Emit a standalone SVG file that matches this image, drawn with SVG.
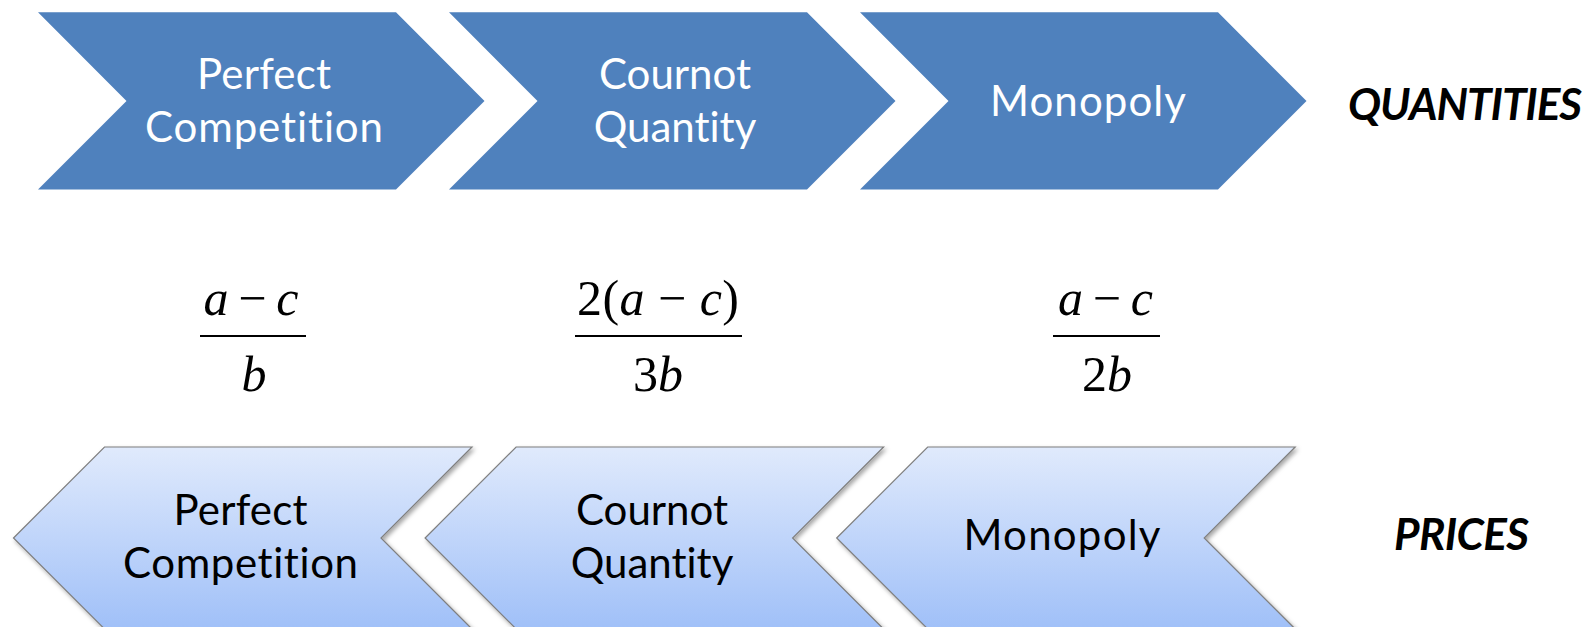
<svg xmlns="http://www.w3.org/2000/svg" xmlns:xlink="http://www.w3.org/1999/xlink" width="1593" height="627" viewBox="0 0 1593 627">
  <style>
    .top { fill: #4f81bd; }
    .bot { fill: url(#gbot); stroke: #7f7f7f; stroke-width: 1.2; filter: url(#sh); }
    .lbl { font-family: Lato, "Open Sans", "DejaVu Sans", sans-serif; font-size: 42px; text-anchor: middle; font-variant-ligatures: none; font-feature-settings: "liga" 0, "clig" 0; }
    .w { fill: #ffffff; }
    .k { fill: #000000; }
    .side { font-family: Lato, "Open Sans", "DejaVu Sans", sans-serif; font-size: 44px; font-weight: bold; font-style: italic; fill: #000; font-variant-ligatures: none; }
    .math { font-family: "Liberation Serif", "Times New Roman", serif; font-size: 50px; font-style: italic; fill: #000; text-anchor: middle; }
    .up { font-style: normal; }
    .bar { stroke: #000; stroke-width: 2.2; }
  </style>
  <defs>
    <linearGradient id="gbot" x1="0" y1="447" x2="0" y2="629" gradientUnits="userSpaceOnUse">
      <stop offset="0" stop-color="#e0eafc"/>
      <stop offset="1" stop-color="#a0c0f8"/>
    </linearGradient>
    <filter id="sh" x="-10%" y="-10%" width="125%" height="130%">
      <feDropShadow dx="2" dy="2.5" stdDeviation="2" flood-color="#000" flood-opacity="0.35"/>
    </filter>
    <polygon id="chevR" points="38,12.3 396,12.3 484.5,101 396,189.5 38,189.5 126.5,101"/>
    <polygon id="chevL" points="13.5,538 104.5,447 472,447 381,538 472,629 104.5,629"/>
  </defs>

  <g id="connectors"/>

  <g id="q-perfect">
    <use xlink:href="#chevR" class="top"/>
    <text class="lbl w" x="264" y="88.5" textLength="134">Perfect</text>
    <text class="lbl w" x="264" y="141.7" textLength="238">Competition</text>
  </g>
  <g id="q-cournot">
    <use xlink:href="#chevR" class="top" transform="translate(411,0)"/>
    <text class="lbl w" x="675" y="88.5">Cournot</text>
    <text class="lbl w" x="675" y="141.7">Quantity</text>
  </g>
  <g id="q-monopoly">
    <use xlink:href="#chevR" class="top" transform="translate(822,0)"/>
    <text class="lbl w" x="1088" y="115.5" textLength="196">Monopoly</text>
  </g>
  <g id="label-quantities">
    <text class="side" x="1348" y="119.5" textLength="234">QUANTITIES</text>
  </g>

  <g id="f-perfect">
    <text class="math" x="251" y="315" textLength="95">a <tspan class="up">−</tspan> c</text>
    <line class="bar" x1="200" y1="336" x2="306" y2="336"/>
    <text class="math" x="254" y="391">b</text>
  </g>
  <g id="f-cournot">
    <text class="math" x="658" y="315" textLength="162"><tspan class="up">2(</tspan>a <tspan class="up">−</tspan> c<tspan class="up">)</tspan></text>
    <line class="bar" x1="575" y1="336" x2="742" y2="336"/>
    <text class="math" x="658" y="391"><tspan class="up">3</tspan>b</text>
  </g>
  <g id="f-monopoly">
    <text class="math" x="1105.5" y="315" textLength="95">a <tspan class="up">−</tspan> c</text>
    <line class="bar" x1="1053" y1="336" x2="1160" y2="336"/>
    <text class="math" x="1107" y="391"><tspan class="up">2</tspan>b</text>
  </g>

  <g id="p-perfect">
    <use xlink:href="#chevL" class="bot"/>
    <text class="lbl k" x="240.5" y="525" textLength="134">Perfect</text>
    <text class="lbl k" x="240.5" y="578" textLength="235">Competition</text>
  </g>
  <g id="p-cournot">
    <use xlink:href="#chevL" class="bot" transform="translate(411.6,0)"/>
    <text class="lbl k" x="652" y="525">Cournot</text>
    <text class="lbl k" x="652" y="578">Quantity</text>
  </g>
  <g id="p-monopoly">
    <use xlink:href="#chevL" class="bot" transform="translate(823.2,0)"/>
    <text class="lbl k" x="1062" y="550" textLength="197">Monopoly</text>
  </g>
  <g id="label-prices">
    <text class="side" x="1394" y="550" textLength="135">PRICES</text>
  </g>
</svg>
